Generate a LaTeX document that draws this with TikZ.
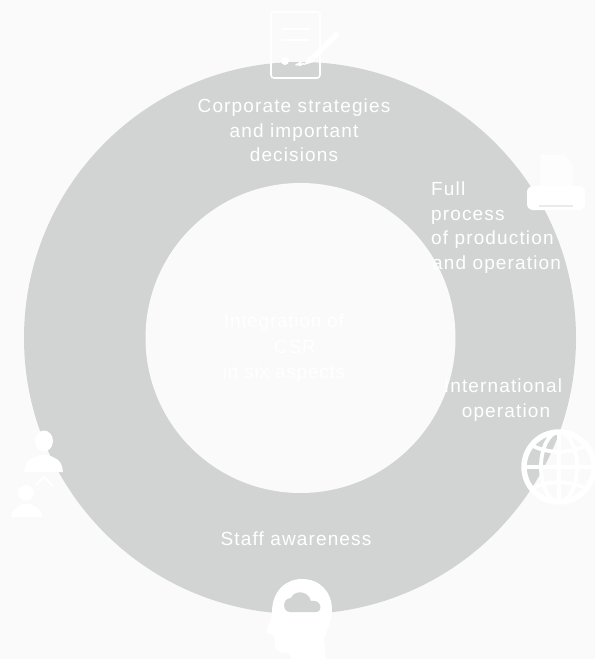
\documentclass[tikz,border=0pt]{standalone}
\usepackage{fontspec}
\setmainfont{Liberation Sans}[LetterSpace=6]
\definecolor{bgc}{HTML}{FAFAFA}
\definecolor{ringc}{HTML}{D2D4D3}
\tikzset{
  lab/.style={text=white,font=\fontsize{19}{19}\selectfont,inner sep=0pt,anchor=base},
  labl/.style={lab,anchor=base west},
  labc/.style={lab,font=\fontsize{19}{19}\selectfont\addfontfeature{LetterSpace=4}},
  iconline/.style={draw=white,line width=1.6pt,line cap=round,line join=round},
  globeline/.style={draw=white,line width=3.8pt},
}
\begin{document}
\begin{tikzpicture}[x=1pt,y=-1pt]
\useasboundingbox (0,0) rectangle (595,659);
\fill[bgc] (0,0) rectangle (595,659);
% ring
\fill[ringc] (300,338) circle[radius=276];
\fill[bgc] (300.5,338) circle[radius=155];
% labels
\node[lab] (t1) at (294,112) {Corporate strategies};
\node[lab] (t2) at (294,137) {and important};
\node[lab] (t3) at (294,161) {decisions};
\node[labl] (f1) at (431,195) {Full};
\node[labl] (f2) at (431,220) {process};
\node[labl] (f3) at (431,244) {of production};
\node[labl] (f4) at (432,269) {and operation};
\node[lab] (i1) at (503,392) {International};
\node[lab] (i2) at (506,417) {operation};
\node[lab] (s1) at (296,545) {Staff awareness};
\node[labc] (c1) at (284,327) {Integration of};
\node[labc] (c2) at (295,353) {CSR};
\node[labc] (c3) at (284,378) {in six aspects};
% document icon
\draw[iconline,rounded corners=3pt] (271,12) rectangle (320,78);
\draw[iconline] (282,29) -- (309,29) (282,40) -- (309,40);
\fill[white] (285,61) circle[radius=4];
\draw[draw=white,line width=5pt] (338,33) -- (313,58);
\fill[white] (309.5,56) -- (315,61.5) -- (304,65) -- cycle;
\draw[iconline] (296,65) -- (301,62.5) -- (299,65.5) -- (304,63.5);
% printer icon
\fill[white,opacity=.6] (541,155) -- (563,155) -- (572,165) -- (572,187) -- (541,187) -- cycle;
\draw[white,line width=1pt] (541,187) -- (541,155) -- (563,155) -- (572,165) -- (572,187);
\fill[white,rounded corners=6pt] (527,186) rectangle (585,210);
\fill[ringc!50!white] (539,205) rectangle (573,206.5);
% globe icon
\begin{scope}
\clip (0,0) rectangle (595,659);
\draw[draw=white,line width=5.5pt] (559,467) circle[radius=35];
\draw[globeline] (559,467) ellipse[x radius=18,y radius=35];
\draw[globeline] (559,432) -- (559,502) (524,467) -- (594,467);
\draw[globeline] (531,445) .. controls (548,454) and (570,454) .. (587,445);
\draw[globeline] (531,489) .. controls (548,480) and (570,480) .. (587,489);
\end{scope}
% head icon
\fill[white] (272,612) .. controls (272,592) and (285,579) .. (302,579)
  .. controls (320,579) and (332,592) .. (332,610)
  .. controls (332,622) and (326,630) .. (324,640)
  -- (326,659) -- (292,659) -- (288,652)
  .. controls (282,654) and (276,652) .. (275,646)
  -- (274,636) -- (266,632)
  .. controls (268,625) and (272,620) .. (272,612) -- cycle;
\fill[ringc] (290,612) .. controls (282,612) and (282,598) .. (291,598)
  .. controls (294,590) and (308,590) .. (311,601)
  .. controls (322,599) and (323,612) .. (316,612) -- cycle;
% people icon
\fill[white] (44,441) ellipse[x radius=9,y radius=10.5];
\fill[white] (24,472) .. controls (25,459) and (33,458) .. (40,455) -- (48,455)
  .. controls (55,458) and (62,459) .. (63,472) -- cycle;
\draw[draw=white,line width=1.8pt] (35.5,485) -- (44,477) -- (53,486);
\fill[white] (26,493) circle[radius=8];
\fill[white] (11,517) .. controls (12,507) and (19,507) .. (23,504) -- (30,504)
  .. controls (35,507) and (41,507) .. (42,517) -- cycle;
\end{tikzpicture}
\end{document}
